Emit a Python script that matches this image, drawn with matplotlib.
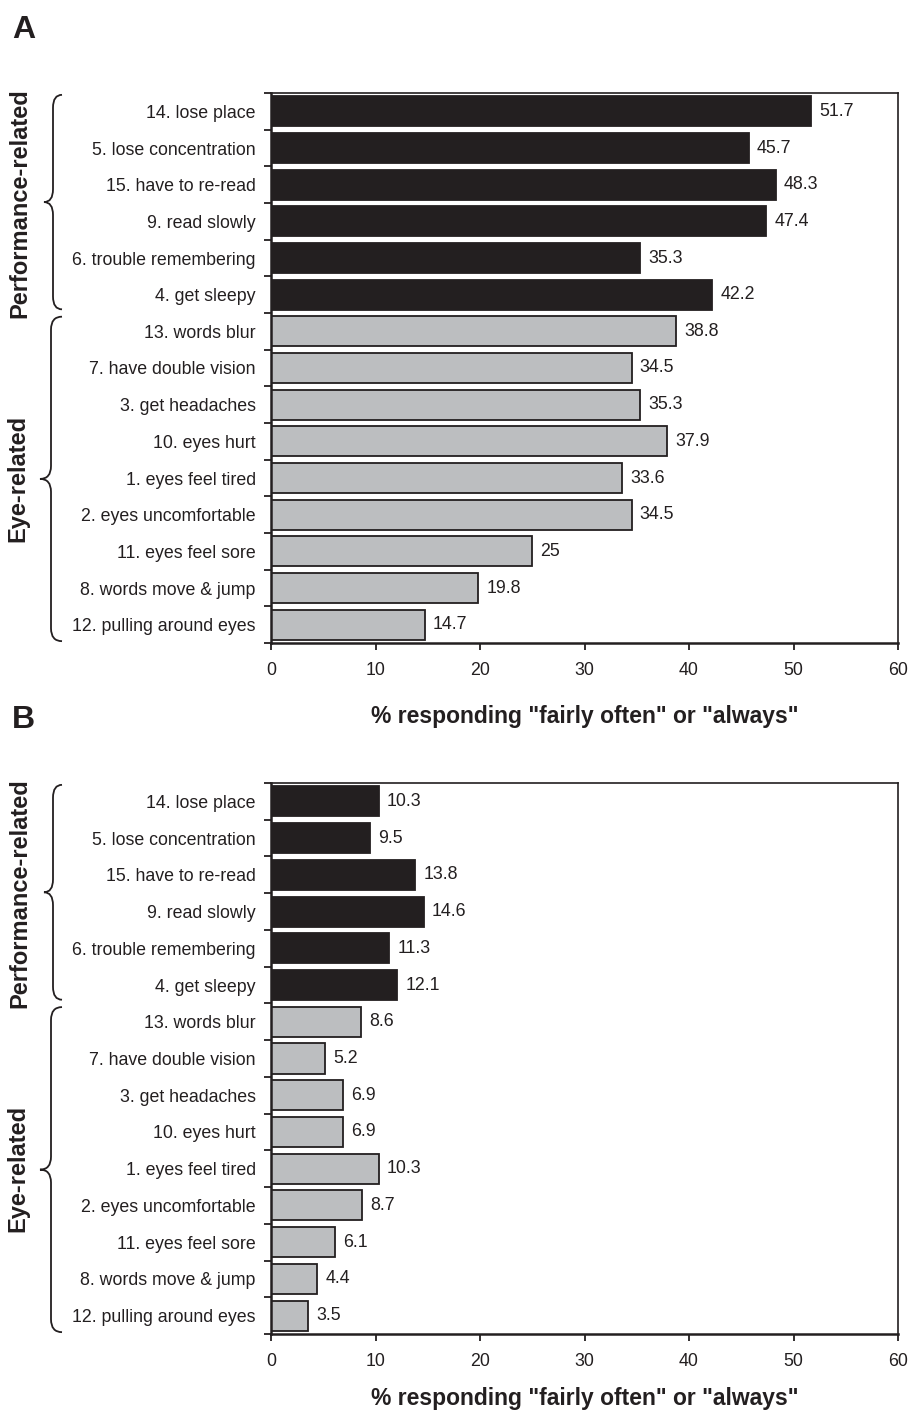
import matplotlib
matplotlib.use("Agg")
import matplotlib.pyplot as plt
import matplotlib.transforms as mtransforms
from matplotlib.path import Path
from matplotlib.patches import PathPatch

plt.rcParams["font.family"] = ["Liberation Sans", "DejaVu Sans"]

labels = [
    "14. lose place",
    "5. lose concentration",
    "15. have to re-read",
    "9. read slowly",
    "6. trouble remembering",
    "4. get sleepy",
    "13. words blur",
    "7. have double vision",
    "3. get headaches",
    "10. eyes hurt",
    "1. eyes feel tired",
    "2. eyes uncomfortable",
    "11. eyes feel sore",
    "8. words move & jump",
    "12. pulling around eyes",
]
n_perf = 6  # first six items are performance-related
values_a = [51.7, 45.7, 48.3, 47.4, 35.3, 42.2, 38.8, 34.5, 35.3, 37.9, 33.6, 34.5, 25, 19.8, 14.7]
values_b = [10.3, 9.5, 13.8, 14.6, 11.3, 12.1, 8.6, 5.2, 6.9, 6.9, 10.3, 8.7, 6.1, 4.4, 3.5]
group_names = ["Performance-related", "Eye-related"]
xlabel = '% responding "fairly often" or "always"'

W, H = 913, 1413
INK = "#231f20"
fig = plt.figure(figsize=(W / 100, H / 100), dpi=100)


def brace(ax, y0, y1, x_line, x_tip, x_end):
    # curly brace: x in figure pixels (converted), y in data units
    tr = mtransforms.blended_transform_factory(fig.transFigure, ax.transData)
    fx = lambda p: p / W
    mid = (y0 + y1) / 2
    r = 0.35
    verts = [
        (fx(x_end), y0), (fx(x_line), y0), (fx(x_line), y0 + r),
        (fx(x_line), mid - r),
        (fx(x_line), mid), (fx(x_tip), mid),
        (fx(x_line), mid), (fx(x_line), mid + r),
        (fx(x_line), y1 - r),
        (fx(x_line), y1), (fx(x_end), y1),
    ]
    codes = [Path.MOVETO, Path.CURVE3, Path.CURVE3, Path.LINETO,
             Path.CURVE3, Path.CURVE3, Path.CURVE3, Path.CURVE3,
             Path.LINETO, Path.CURVE3, Path.CURVE3]
    ax.add_patch(PathPatch(Path(verts, codes), transform=tr, fill=False,
                           lw=1.3, ec=INK, clip_on=False))


def panel(top_px, bottom_px, values, letter, letter_y, xlabel_y):
    ax = fig.add_axes([271 / W, 1 - bottom_px / H, 627 / W, (bottom_px - top_px) / H])
    ypos = list(range(len(labels)))
    colors = [INK] * n_perf + ["#bcbec0"] * (len(labels) - n_perf)
    ax.barh(ypos, values, height=0.82, color=colors, edgecolor=INK, linewidth=1.3)
    for y, v in zip(ypos, values):
        ax.annotate(f"{v:g}", (v, y), xytext=(6, 0), textcoords="offset points",
                    va="center", ha="left", fontsize=12.8, color=INK)
    ax.set_xlim(0, 60)
    ax.set_ylim(len(labels) - 0.5, -0.5)
    ax.set_xticks(range(0, 61, 10))
    ax.set_yticks(ypos)
    ax.set_yticklabels(labels)
    ax.set_yticks([i - 0.5 for i in range(len(labels) + 1)], minor=True)
    ax.tick_params(axis="y", which="major", length=0, pad=11, labelsize=12.8, labelcolor=INK)
    ax.tick_params(axis="y", which="minor", length=5, width=1.3, direction="out", color=INK)
    ax.tick_params(axis="x", length=5, width=1.3, direction="out", pad=9, labelsize=12.8,
                   labelcolor=INK, color=INK)
    for side in ["left", "bottom"]:
        ax.spines[side].set_linewidth(1.8)
    for side in ["top", "right"]:
        ax.spines[side].set_linewidth(1.2)
    for s in ax.spines.values():
        s.set_color(INK)
    fig.text(584.5 / W, 1 - xlabel_y / H, xlabel, fontsize=16.5, fontweight="bold",
             ha="center", va="center", color=INK)

    brace(ax, -0.45, n_perf - 0.6, 53, 44, 62)
    brace(ax, n_perf - 0.4, len(labels) - 0.55, 51, 40, 62)
    tr = mtransforms.blended_transform_factory(fig.transFigure, ax.transData)
    ax.text(20 / W, (n_perf - 1) / 2, group_names[0], transform=tr, rotation=90,
            ha="center", va="center", fontsize=17, fontweight="bold", color=INK)
    ax.text(18 / W, (n_perf + len(labels) - 1) / 2, group_names[1], transform=tr, rotation=90,
            ha="center", va="center", fontsize=17, fontweight="bold", color=INK)
    fig.text(12 / W, 1 - letter_y / H, letter, fontsize=23, fontweight="bold",
             ha="left", va="center", color=INK)
    return ax


panel(93, 643, values_a, "A", 30, 716)
panel(783, 1334, values_b, "B", 720, 1399)

fig.savefig("out.png", dpi=100)
